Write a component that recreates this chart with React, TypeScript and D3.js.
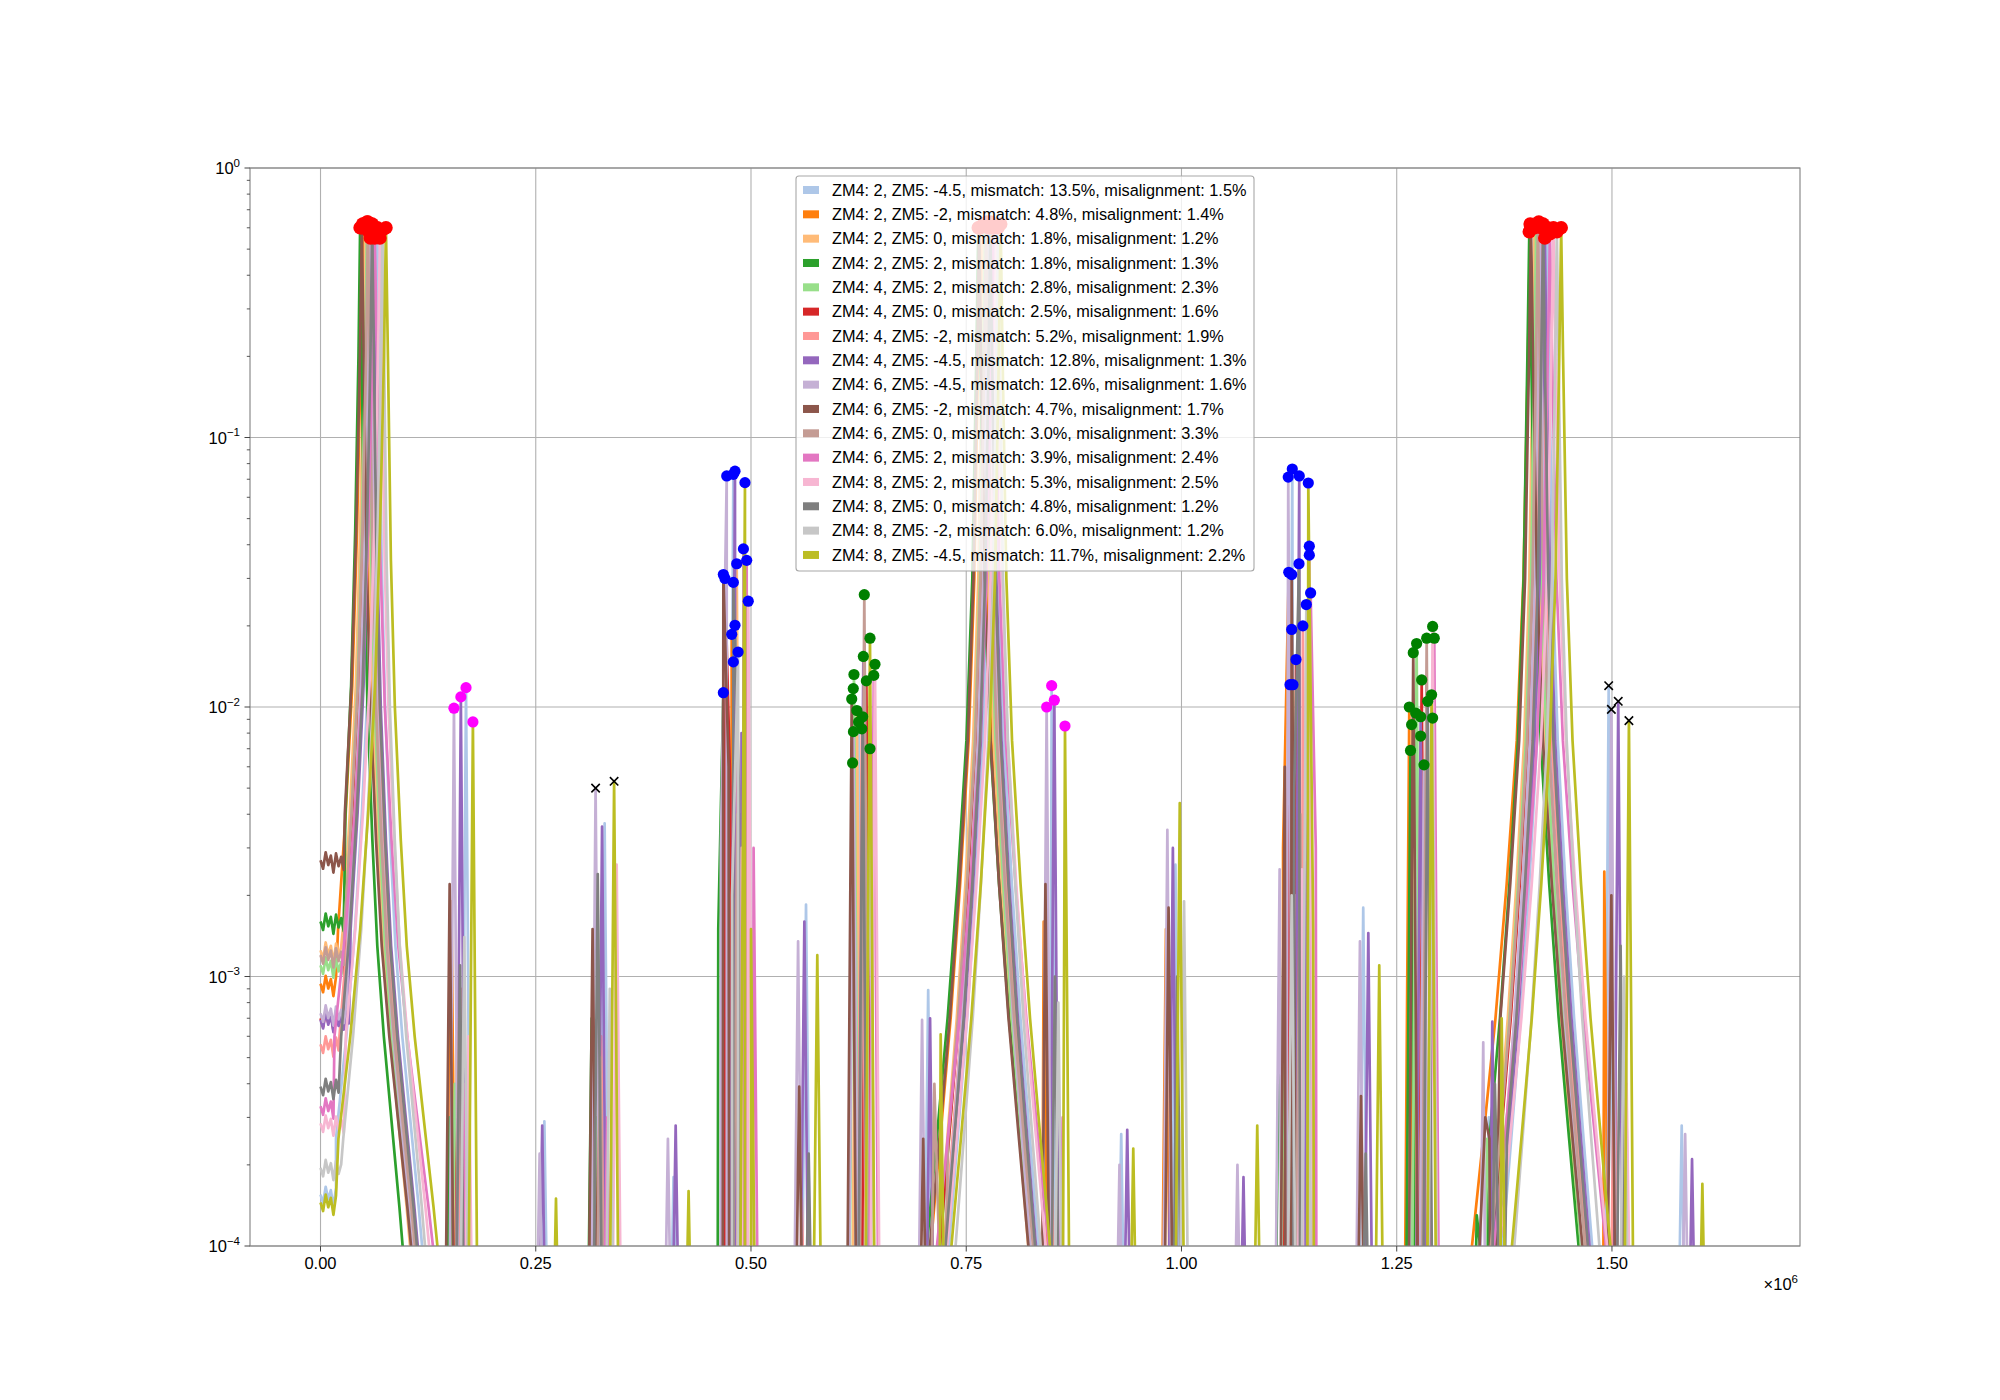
import React, { useRef, useEffect } from "react";
import * as d3 from "d3";

type Pt = [number, number];

const width = 2000;
const height = 1400;
const margin = { top: 168, right: 200, bottom: 154, left: 250 };
const font = "'Liberation Sans', Arial, Helvetica, sans-serif";

const labels = [
  "ZM4: 2, ZM5: -4.5, mismatch: 13.5%, misalignment: 1.5%",
  "ZM4: 2, ZM5: -2, mismatch: 4.8%, misalignment: 1.4%",
  "ZM4: 2, ZM5: 0, mismatch: 1.8%, misalignment: 1.2%",
  "ZM4: 2, ZM5: 2, mismatch: 1.8%, misalignment: 1.3%",
  "ZM4: 4, ZM5: 2, mismatch: 2.8%, misalignment: 2.3%",
  "ZM4: 4, ZM5: 0, mismatch: 2.5%, misalignment: 1.6%",
  "ZM4: 4, ZM5: -2, mismatch: 5.2%, misalignment: 1.9%",
  "ZM4: 4, ZM5: -4.5, mismatch: 12.8%, misalignment: 1.3%",
  "ZM4: 6, ZM5: -4.5, mismatch: 12.6%, misalignment: 1.6%",
  "ZM4: 6, ZM5: -2, mismatch: 4.7%, misalignment: 1.7%",
  "ZM4: 6, ZM5: 0, mismatch: 3.0%, misalignment: 3.3%",
  "ZM4: 6, ZM5: 2, mismatch: 3.9%, misalignment: 2.4%",
  "ZM4: 8, ZM5: 2, mismatch: 5.3%, misalignment: 2.5%",
  "ZM4: 8, ZM5: 0, mismatch: 4.8%, misalignment: 1.2%",
  "ZM4: 8, ZM5: -2, mismatch: 6.0%, misalignment: 1.2%",
  "ZM4: 8, ZM5: -4.5, mismatch: 11.7%, misalignment: 2.2%",
];

const colors = [
  "#aec7e8", "#ff7f0e", "#ffbb78", "#2ca02c", "#98df8a", "#d62728", "#ff9896", "#9467bd",
  "#c5b0d5", "#8c564b", "#c49c94", "#e377c2", "#f7b6d2", "#7f7f7f", "#c7c7c7", "#bcbd22",
];

const xTicks = [0, 0.25, 0.5, 0.75, 1.0, 1.25, 1.5]; // x 1e6
const yTickExp = [-4, -3, -2, -1, 0];
const xEnd = 1.629;

// first (largest) peak, with the low-frequency floor in front of it
const floorA = [1.55e-4, 9.4e-4, 1.25e-3, 1.6e-3, 1.1e-3, 7.0e-4, 5.6e-4, 6.9e-4, 7.3e-4, 2.7e-3, 1.2e-3, 3.3e-4, 2.85e-4, 3.9e-4, 1.95e-4, 1.45e-4];
const floorX = [0, 0.003, 0.006, 0.009, 0.012, 0.015, 0.018, 0.021, 0.024, 0.027, 0.03, 0.033, 0.036, 0.039, 0.042, 0.045];
const floorRipple = [1.0, 0.93, 1.07, 0.96, 1.04, 0.9, 1.06, 0.95, 1.03, 0.92, 1.08, 0.97, 1.02, 0.91, 1.05, 0.98];
const peakAX = [0.066, 0.049, 0.052, 0.046, 0.054, 0.056, 0.058, 0.061, 0.057, 0.048, 0.055, 0.063, 0.069, 0.06, 0.072, 0.076];
const peakAY = [0.6, 0.62, 0.61, 0.6, 0.63, 0.58, 0.55, 0.61, 0.62, 0.6, 0.63, 0.55, 0.55, 0.62, 0.59, 0.6];
const skirtA = [1.0, 1.1, 1.0, 0.95, 1.0, 1.05, 1.0, 1.0, 0.95, 1.1, 1.05, 1.3, 1.1, 1.0, 0.95, 1.15];
const leftA: Pt[] = [[-0.06, 1e-4], [-0.048, 2.5e-4], [-0.036, 6e-4], [-0.026, 1.5e-3], [-0.018, 4e-3], [-0.011, 1.2e-2], [-0.006, 4.5e-2], [-0.002, 0.2]];
const rightA: Pt[] = [[0.002, 0.2], [0.005, 3.5e-2], [0.009, 1.0e-2], [0.015, 3.2e-3], [0.021, 1.3e-3], [0.029, 6e-4], [0.038, 3e-4], [0.048, 1.4e-4], [0.058, 6e-5], [0.07, 1.5e-5]];

// the two other large peaks
const peakFX = [0.782, 0.766, 0.77, 0.764, 0.772, 0.774, 0.776, 0.779, 0.775, 0.765, 0.773, 0.781, 0.785, 0.778, 0.787, 0.79];
const peakFY = [0.61, 0.6, 0.62, 0.6, 0.61, 0.63, 0.6, 0.62, 0.61, 0.6, 0.62, 0.6, 0.61, 0.63, 0.6, 0.62];
const skirtF = [1.0, 1.1, 1.0, 1.15, 1.0, 1.05, 1.0, 1.0, 0.95, 1.1, 1.05, 1.25, 1.1, 1.0, 0.95, 1.1];
const peakMX = [1.425, 1.405, 1.41, 1.404, 1.412, 1.415, 1.418, 1.422, 1.416, 1.406, 1.414, 1.428, 1.432, 1.42, 1.436, 1.441];
const peakMY = [0.6, 0.62, 0.6, 0.58, 0.61, 0.63, 0.6, 0.55, 0.61, 0.6, 0.62, 0.57, 0.6, 0.62, 0.58, 0.6];
const skirtM = [1.0, 1.3, 1.0, 1.1, 1.0, 1.05, 1.0, 1.0, 0.95, 1.15, 1.05, 1.25, 1.2, 1.0, 0.95, 1.1];
const mainSkirt: Pt[] = [[0.002, 0.2], [0.006, 3e-2], [0.012, 7.5e-3], [0.021, 2.2e-3], [0.031, 7e-4], [0.042, 2.5e-4], [0.052, 1e-4], [0.065, 1.5e-5]];

// narrow side peaks, one entry per series (null = not above the axis)
const sideB: (Pt | null)[] = [[0.169, 0.0118], [0.152, 1.9e-3], [0.158, 6e-4], [0.15, 3e-4], [0.156, 4e-4], [0.16, 5e-4], [0.164, 9e-4], [0.163, 0.0109], [0.155, 0.0099], [0.15, 2.2e-3], [0.161, 7e-4], [0.166, 4e-4], [0.172, 6e-4], [0.162, 1.1e-3], [0.167, 1.4e-3], [0.177, 0.0088]];
const sideC: (Pt | null)[] = [[0.33, 3.7e-3], [0.317, 8e-4], [0.322, 3e-4], [0.315, 7e-4], [0.32, 3e-4], [0.324, 4e-4], [0.326, 6e-4], [0.327, 3.6e-3], [0.3195, 5.0e-3], [0.316, 1.5e-3], [0.325, 5e-4], [0.333, 3e-4], [0.344, 2.6e-3], [0.322, 2.4e-3], [0.336, 9e-4], [0.341, 5.3e-3]];
const tiny1: (Pt | null)[] = [[0.26, 2.9e-4], null, null, null, null, null, null, [0.2575, 2.8e-4], [0.2545, 2.2e-4], null, null, null, null, null, null, [0.2735, 1.5e-4]];
const tiny2: (Pt | null)[] = [[0.41, 1.8e-4], null, null, null, null, null, null, [0.4125, 2.8e-4], [0.4035, 2.5e-4], null, null, null, null, null, null, [0.4275, 1.6e-4]];
const sideD: (Pt | null)[] = [[0.4795, 0.073], [0.4776, 0.0186], [0.4834, 0.034], [0.4679, 0.0113], [0.4814, 0.0201], [0.4698, 0.03], [0.4795, 0.0147], [0.4814, 0.075], [0.4718, 0.072], [0.4679, 0.031], [0.4912, 0.0386], [0.495, 0.035], [0.4968, 0.0247], [0.4795, 0.029], [0.485, 0.016], [0.493, 0.068]];
const sideD2: (Pt | null)[] = [[0.488, 4e-3], [0.47, 2.5e-3], [0.476, 3e-3], [0.462, 1.5e-3], [0.474, 2e-3], [0.476, 5e-3], [0.486, 2e-3], [0.489, 8e-3], [0.465, 3e-3], [0.474, 6e-3], [0.484, 4e-3], [0.503, 3e-3], [0.489, 3e-3], [0.486, 5e-3], [0.478, 2e-3], [0.5, 1.5e-3]];
const tiny3: (Pt | null)[] = [[0.5639, 1.85e-3], null, null, null, null, null, [0.559, 1.5e-4], [0.562, 1.6e-3], [0.5547, 1.35e-3], [0.556, 3.9e-4], null, null, null, [0.567, 2.2e-4], null, [0.577, 1.2e-3]];
const sideE: (Pt | null)[] = [[0.625, 0.0088], [0.6188, 0.0117], [0.623, 0.0097], [0.618, 0.0062], [0.6196, 0.0132], [0.634, 0.0125], [0.6287, 0.0083], [0.6305, 0.0154], [0.619, 0.0081], [0.617, 0.0107], [0.6316, 0.0261], [0.6426, 0.0131], [0.644, 0.0144], [0.6297, 0.0092], [0.6382, 0.007], [0.6382, 0.018]];
const tiny4: (Pt | null)[] = [[0.7058, 8.9e-4], null, null, null, null, null, null, [0.708, 7e-4], [0.6987, 6.9e-4], [0.7, 2.5e-4], [0.713, 4e-4], null, null, null, null, [0.7203, 6.1e-4]];
const sideG: (Pt | null)[] = [[0.8492, 0.012], [0.84, 1.6e-3], null, null, null, null, [0.848, 5e-4], [0.8523, 0.0106], [0.8434, 0.01], [0.842, 2.2e-3], null, [0.862, 3e-4], null, [0.853, 1.0e-3], [0.857, 8e-4], [0.8647, 0.0085]];
const tiny5: (Pt | null)[] = [[0.93, 2.6e-4], null, null, null, null, null, null, [0.937, 2.7e-4], [0.928, 2.0e-4], null, null, null, null, null, null, [0.944, 2.3e-4]];
const tiny6: (Pt | null)[] = [[0.993, 2.6e-3], [0.982, 1.5e-3], null, null, null, null, null, [0.99, 3.0e-3], [0.9836, 3.5e-3], [0.985, 1.8e-3], null, null, null, [0.995, 1.0e-3], [1.003, 1.9e-3], [0.998, 4.4e-3]];
const tiny7: (Pt | null)[] = [null, null, null, null, null, null, null, [1.072, 1.8e-4], [1.065, 2.0e-4], null, null, null, null, null, null, [1.088, 2.8e-4]];
const sideI: (Pt | null)[] = [[1.1287, 0.0764], [1.1246, 0.0316], [1.128, 0.0194], [1.126, 0.0121], [1.1295, 0.0121], [1.133, 0.015], [1.141, 0.02], [1.1368, 0.072], [1.124, 0.0713], [1.128, 0.031], [1.1485, 0.0395], [1.15, 0.0265], [1.1485, 0.0366], [1.1365, 0.034], [1.145, 0.024], [1.1473, 0.0678]];
const sideI2: (Pt | null)[] = [[1.138, 4e-3], [1.118, 3e-3], [1.122, 3e-3], [1.114, 1.2e-3], [1.121, 2e-3], [1.124, 5e-3], [1.132, 2e-3], [1.145, 7e-3], [1.114, 2.5e-3], [1.12, 6e-3], [1.138, 4e-3], [1.156, 3e-3], [1.14, 2.5e-3], [1.131, 5e-3], [1.128, 2e-3], [1.153, 1.5e-3]];
const tiny8: (Pt | null)[] = [[1.2111, 1.8e-3], null, null, null, null, null, null, [1.217, 1.45e-3], [1.2073, 1.35e-3], [1.2085, 3.6e-4], null, null, null, [1.214, 2.2e-4], null, [1.2297, 1.1e-3]];
const sideK: (Pt | null)[] = [[1.272, 0.0095], [1.2646, 0.01], [1.2673, 0.0086], [1.266, 0.0069], [1.2731, 0.0172], [1.279, 0.0126], [1.2778, 0.0078], [1.2778, 0.0092], [1.2817, 0.0061], [1.2692, 0.0159], [1.2848, 0.018], [1.2936, 0.018], [1.2917, 0.0199], [1.286, 0.0105], [1.2917, 0.0091], [1.2905, 0.0111]];
const tiny9: (Pt | null)[] = [[1.357, 3e-4], null, null, [1.343, 1.3e-4], [1.355, 2.5e-4], null, null, [1.361, 6.8e-4], [1.3505, 5.7e-4], [1.3529, 3.0e-4], null, null, null, [1.364, 4e-4], null, [1.3719, 7e-4]];
const sideN: (Pt | null)[] = [[1.4962, 0.012], [1.4911, 2.45e-3], null, null, null, null, [1.503, 8e-4], [1.5073, 0.0105], [1.4993, 0.0098], [1.4993, 2.0e-3], null, [1.516, 5e-4], [1.517, 4e-4], [1.51, 1.3e-3], [1.514, 1.0e-3], [1.5197, 0.0089]];
const tiny10: (Pt | null)[] = [[1.581, 2.8e-4], null, null, null, null, null, null, [1.593, 2.1e-4], [1.585, 2.6e-4], null, null, null, null, null, null, [1.605, 1.7e-4]];

const spikeSets = [sideB, sideC, tiny1, tiny2, sideD, sideD2, tiny3, sideE, tiny4, sideG, tiny5, tiny6, tiny7, sideI, sideI2, tiny8, sideK, tiny9, sideN, tiny10];
const spikeHalf = 0.007;
const below = 1e-5;

const minusExp = (e: number) => (e < 0 ? "\u2212" + Math.abs(e) : String(e));

function seriesPoints(i: number): Pt[] {
  const pts: Pt[] = [];
  const f = floorA[i];
  const cx = peakAX[i];
  const s = skirtA[i];
  const left = leftA.map(([dx, v]) => [cx + dx * s, v] as Pt).filter((p) => p[1] > f);
  const x0 = left.length ? left[0][0] : cx;
  floorX.forEach((fx, k) => {
    if (fx < x0) pts.push([fx, f * floorRipple[k]]);
  });
  pts.push(...left, [cx, peakAY[i]], ...rightA.map(([dx, v]) => [cx + dx * s, v] as Pt));

  const rest: Pt[] = [];
  spikeSets.forEach((set) => {
    const p = set[i];
    if (!p) return;
    rest.push([p[0] - spikeHalf, below], p, [p[0] + spikeHalf, below]);
  });
  [[peakFX[i], peakFY[i], skirtF[i]], [peakMX[i], peakMY[i], skirtM[i]]].forEach(([px, py, sc]) => {
    mainSkirt.slice().reverse().forEach(([dx, v]) => rest.push([px - dx * sc, v]));
    rest.push([px, py]);
    mainSkirt.forEach(([dx, v]) => rest.push([px + dx * sc, v]));
  });
  rest.sort((a, b) => a[0] - b[0]);
  pts.push(...rest, [xEnd, below]);
  return pts;
}

export default function App() {
  const svgRef = useRef<SVGSVGElement>(null);

  useEffect(() => {
    document.body.style.margin = "0";
    const svg = d3.select(svgRef.current);
    svg.selectAll("*").remove();

    const x = d3.scaleLinear().domain([-0.0819, 1.7184]).range([margin.left, width - margin.right]);
    const y = d3.scaleLog().domain([1e-4, 1]).range([height - margin.bottom, margin.top]);
    const x0 = margin.left, x1 = width - margin.right;
    const y0 = margin.top, y1 = height - margin.bottom;

    svg.append("rect").attr("width", width).attr("height", height).attr("fill", "white");

    svg.append("defs").append("clipPath").attr("id", "plot-clip")
      .append("rect").attr("x", x0).attr("y", y0).attr("width", x1 - x0).attr("height", y1 - y0);

    // grid
    const grid = svg.append("g").attr("stroke", "#b0b0b0").attr("stroke-width", 1.1);
    xTicks.forEach((t) => grid.append("line").attr("x1", x(t)).attr("x2", x(t)).attr("y1", y0).attr("y2", y1));
    yTickExp.forEach((e) => grid.append("line").attr("x1", x0).attr("x2", x1).attr("y1", y(10 ** e)).attr("y2", y(10 ** e)));

    // spectra
    const line = d3.line<Pt>().x((d) => x(d[0])).y((d) => y(d[1]));
    const lines = svg.append("g").attr("clip-path", "url(#plot-clip)");
    labels.forEach((_, i) => {
      lines.append("path")
        .attr("d", line(seriesPoints(i)))
        .attr("fill", "none")
        .attr("stroke", colors[i])
        .attr("stroke-width", 2.7)
        .attr("stroke-linejoin", "round");
    });

    // detected peak markers
    const marks = svg.append("g");
    const dot = (p: Pt | null, color: string, r: number) => {
      if (!p) return;
      marks.append("circle").attr("cx", x(p[0])).attr("cy", y(p[1])).attr("r", r).attr("fill", color);
    };
    const cross = (p: Pt | null) => {
      if (!p) return;
      const cx = x(p[0]), cy = y(p[1]), h = 4.2;
      marks.append("path")
        .attr("d", `M${cx - h},${cy - h}L${cx + h},${cy + h}M${cx - h},${cy + h}L${cx + h},${cy - h}`)
        .attr("stroke", "black").attr("stroke-width", 1.6);
    };
    const sb = [0, 7, 8, 15];
    labels.forEach((_, i) => {
      dot(sideD[i], "#0000ff", 5.6);
      dot(sideI[i], "#0000ff", 5.6);
      dot(sideE[i], "#008000", 5.6);
      dot(sideK[i], "#008000", 5.6);
    });
    sb.forEach((i) => {
      dot(sideB[i], "#ff00ff", 5.6);
      dot(sideG[i], "#ff00ff", 5.6);
    });
    [8, 15].forEach((i) => cross(sideC[i]));
    sb.forEach((i) => cross(sideN[i]));
    labels.forEach((_, i) => {
      dot([peakAX[i], peakAY[i]], "#ff0000", 6.8);
      dot([peakFX[i], peakFY[i]], "#ff0000", 6.8);
      dot([peakMX[i], peakMY[i]], "#ff0000", 6.8);
    });

    // axes frame and ticks
    const axis = svg.append("g").attr("stroke", "#808080");
    axis.append("rect").attr("x", x0).attr("y", y0).attr("width", x1 - x0).attr("height", y1 - y0)
      .attr("fill", "none").attr("stroke-width", 1.1);
    xTicks.forEach((t) => axis.append("line").attr("x1", x(t)).attr("x2", x(t)).attr("y1", y1).attr("y2", y1 + 5.5).attr("stroke", "#444"));
    yTickExp.forEach((e) => {
      axis.append("line").attr("x1", x0 - 5.5).attr("x2", x0).attr("y1", y(10 ** e)).attr("y2", y(10 ** e)).attr("stroke", "#444");
      if (e < 0) {
        d3.range(2, 10).forEach((m) => {
          const v = m * 10 ** e;
          axis.append("line").attr("x1", x0 - 3.2).attr("x2", x0).attr("y1", y(v)).attr("y2", y(v)).attr("stroke", "#444").attr("stroke-width", 0.9);
        });
      }
    });

    const txt = svg.append("g").attr("font-family", font).attr("font-size", 16.5).attr("fill", "black");
    xTicks.forEach((t) => {
      txt.append("text").attr("x", x(t)).attr("y", y1 + 23).attr("text-anchor", "middle").text(d3.format(".2f")(t));
    });
    yTickExp.forEach((e) => {
      const t = txt.append("text").attr("x", x0 - 10).attr("y", y(10 ** e) + 6).attr("text-anchor", "end");
      t.append("tspan").text("10");
      t.append("tspan").attr("dy", -7.5).attr("font-size", 11.5).text(minusExp(e));
    });
    const off = txt.append("text").attr("x", x1 - 2).attr("y", y1 + 44).attr("text-anchor", "end");
    off.append("tspan").text("\u00d710");
    off.append("tspan").attr("dy", -7.5).attr("font-size", 11.5).text("6");

    // legend
    const lg = svg.append("g").attr("font-family", font).attr("font-size", 16.3);
    lg.append("rect").attr("x", 796).attr("y", 176).attr("width", 458).attr("height", 395).attr("rx", 3)
      .attr("fill", "white").attr("fill-opacity", 0.8).attr("stroke", "#a8a8a8").attr("stroke-width", 1.1);
    labels.forEach((lab, i) => {
      const cy = 190 + i * 24.33;
      lg.append("rect").attr("x", 803).attr("y", cy - 4).attr("width", 16).attr("height", 8).attr("fill", colors[i]);
      lg.append("text").attr("x", 832).attr("y", cy).attr("dy", "0.35em").attr("fill", "black").text(lab);
    });
  }, []);

  return <svg ref={svgRef} width={width} height={height} style={{ display: "block" }} />;
}
